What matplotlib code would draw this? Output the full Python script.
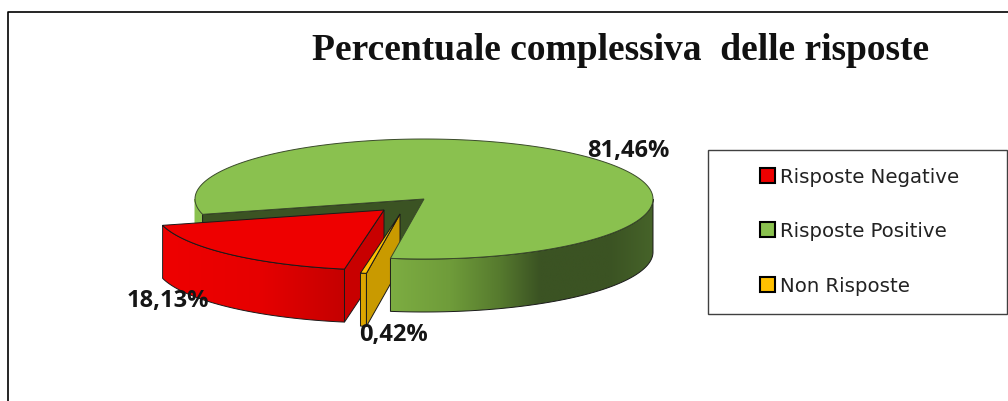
import numpy as np
import matplotlib
matplotlib.use('Agg')
import matplotlib.pyplot as plt
from matplotlib.colors import to_rgb
from matplotlib.patches import Patch, Polygon, Rectangle

# chart values
categories = ['Risposte Negative', 'Risposte Positive', 'Non Risposte']
values = [18.13, 81.46, 0.42]
value_labels = ['18,13%', '81,46%', '0,42%']
title = 'Percentuale complessiva  delle risposte'

# pie geometry in pixels
cx, cy = 424, 200
a, b = 229, 60
depth = 53
start_angle = 165.2
offsets = {'neg': (-40, 11), 'pos': (0, 0), 'non': (-24, 15)}

GREEN, RED, ORANGE = '#8AC14F', '#EE0000', '#FFC000'
LINE = '#1a1a1a'

fig = plt.figure(figsize=(10.08, 4.02), dpi=100)
ax = fig.add_axes([0, 0, 1, 1])
ax.axis('off')

z = [2]  # painter's order: every new shape goes above the last one


def next_z():
    z[0] += 1
    return z[0]


def rim_xy(t, off):
    t = np.radians(t)
    return cx + off[0] + a * np.cos(t), cy + off[1] + b * np.sin(t)


def rim(t0, t1, off, xstops, cstops, edge=LINE):
    # outer wall, a gradient image clipped to the wall outline
    ts = np.linspace(t0, t1, 200)
    x, y = rim_xy(ts, off)
    pts = np.c_[np.r_[x, x[::-1]], np.r_[y, y[::-1] + depth]]
    order = next_z()
    outline = Polygon(pts, closed=True, facecolor='none', edgecolor=edge, lw=0.7, zorder=order + 0.5)
    ax.add_patch(outline)
    xs = np.linspace(x.min(), x.max(), 256)
    cstops = np.array([to_rgb(c) for c in cstops])
    grad = np.stack([np.interp(xs, xstops, cstops[:, k]) for k in range(3)], axis=-1)[None, :, :]
    im = ax.imshow(grad, extent=[x.min(), x.max(), y.max() + depth, y.min()], aspect='auto',
                   zorder=order, interpolation='bilinear')
    im.set_clip_path(outline)


def cut_face(t, off, col):
    x, y = rim_xy(t, off)
    ax_, ay = cx + off[0], cy + off[1]
    ax.add_patch(Polygon([(ax_, ay), (x, y), (x, y + depth), (ax_, ay + depth)], closed=True,
                         facecolor=col, edgecolor=LINE, lw=0.7, zorder=next_z()))


def top(t0, t1, off, col, edge=LINE):
    ts = np.linspace(t0, t1, 300)
    x, y = rim_xy(ts, off)
    ax.add_patch(Polygon(np.c_[np.r_[cx + off[0], x], np.r_[cy + off[1], y]], closed=True,
                         facecolor=col, edgecolor=edge, lw=0.7, zorder=next_z()))


spans = np.array(values) / sum(values) * 360
pos_start = start_angle
pos_end = pos_start + spans[1]
non_start = pos_end - 360
non_end = non_start + spans[2]
neg_start = non_end
neg_end = start_angle

# far wall of the gap left by the exploded slices
rim(pos_start, 180, offsets['pos'], [190, 210], ['#8AC14F', '#8AC14F'], edge='#8AC14F')
cut_face(pos_start, offsets['pos'], '#3B5323')

# red slice
rim(neg_start, neg_end, offsets['neg'], [165, 260, 345], ['#EE0000', '#E60000', '#C40000'])
cut_face(neg_start, offsets['neg'], '#C80000')
top(neg_start, neg_end, offsets['neg'], RED)

# orange slice
rim(non_start, non_end, offsets['non'], [360, 367], ['#DDA600', '#DDA600'])
cut_face(non_start, offsets['non'], '#C99A00')
top(non_start, non_end, offsets['non'], ORANGE)

# green slice on top of the rest
rim(360, pos_end, offsets['pos'], [390, 450, 500, 540, 610, 653],
    ['#7DAD42', '#6F9C3A', '#567A2E', '#3B5323', '#3B5323', '#466329'])
top(pos_start, pos_end, offsets['pos'], GREEN, edge='#3a4a2a')

ax.set_xlim(0, 1008)
ax.set_ylim(402, 0)

# frame of the chart area, cut by the crop on the right and bottom
ax.plot([8, 8, 1008], [402, 13, 13], color='black', lw=1.2, zorder=1)

ax.text(621, 50, title, ha='center', va='center', fontsize=27, fontweight='bold',
        family='Liberation Serif', color='#111111', zorder=50)

label_font = dict(fontsize=17, fontweight='bold', family='Open Sans', color='#151515',
                  ha='center', va='center', zorder=50)
ax.text(168, 301, value_labels[0], **label_font)
ax.text(628, 151, value_labels[1], **label_font)
ax.text(393, 335, value_labels[2], **label_font)

# legend
ax.add_patch(Rectangle((708, 150.5), 299, 164, facecolor='white', edgecolor='#404040', lw=1.0))
handles = [Patch(facecolor=c, edgecolor='black', lw=1.5) for c in [RED, GREEN, ORANGE]]
ax.legend(handles, categories, loc='upper left', bbox_to_anchor=(760, 168),
          bbox_transform=ax.transData, frameon=False, borderpad=0, borderaxespad=0,
          fontsize=14.2, labelspacing=1.8, handlelength=0.78, handleheight=0.78,
          handletextpad=0.25, labelcolor='#222222')

fig.savefig('out.png', dpi=100)
